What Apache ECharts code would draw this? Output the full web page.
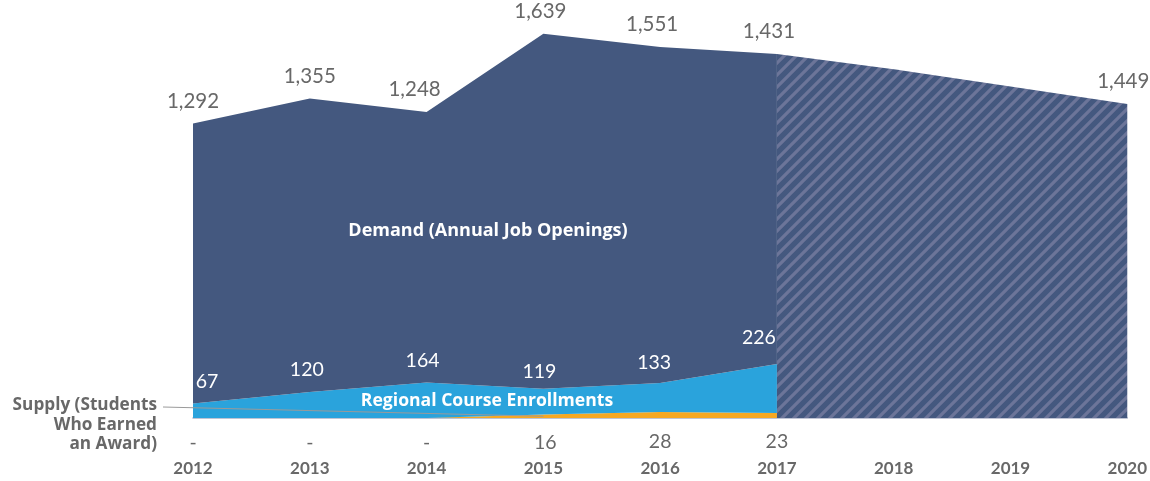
<!DOCTYPE html>
<html>
<head>
<meta charset="utf-8">
<script src="https://cdn.jsdelivr.net/npm/echarts@6/dist/echarts.min.js"></script>
<style>
  html, body { margin: 0; padding: 0; background: #ffffff; }
  #chart { width: 1150px; height: 481px; }
</style>
</head>
<body>
<div id="chart"></div>
<script>
// Years on the horizontal axis
const years = ['2012', '2013', '2014', '2015', '2016', '2017', '2018', '2019', '2020'];

// Annual job openings (observed years)
const demand = [1292, 1355, 1248, 1639, 1551, 1431];
// Regional course enrollments
const enrollments = [67, 120, 164, 119, 133, 226];
// Students who earned an award
const supply = [0, 0, 0, 16, 28, 23];
// Projected job openings, 2018-2020
const forecastDemand = [1610, 1530, 1449];

const NAVY = '#44587f';
const BLUE = '#2aa3dc';
const ORANGE = '#f6a822';
const GREY = '#686868';
const FONT = 'Lato, "Open Sans", sans-serif';
const NOTE_FONT = '"Open Sans", Lato, sans-serif';

// Diagonal hatch tile for the projected period
function hatchTile() {
  const s = 12;
  const c = document.createElement('canvas');
  c.width = s; c.height = s;
  const g = c.getContext('2d');
  g.fillStyle = NAVY;
  g.fillRect(0, 0, s, s);
  g.strokeStyle = '#6c7599';
  g.lineWidth = 3.2;
  g.beginPath();
  for (const o of [-s, 0, s]) {
    g.moveTo(o - 2, s + 2);
    g.lineTo(o + s + 2, -2);
  }
  g.stroke();
  return c;
}

const pad = n => years.map((_, i) => (i < n.length ? n[i] : null));
const fmt = v => v.toLocaleString('en-US');

// Small nudges so value labels sit clear of the edges
const demandLabelShift = [0, 0, -12, -3, -8, -8];
const enrollLabelShift = [[14, 0], [-3, 0], [-4, 0], [-4, 5], [-6, 2], [-18, -4]];
const supplyLabelShift = [[0, 3], [0, 3], [0, 3], [2, 6], [0, 8], [0, 7]];

const demandData = demand.map((v, i) => ({
  value: v,
  label: { offset: [demandLabelShift[i], 0] }
}));
const enrollData = enrollments.map((v, i) => ({
  value: v,
  label: { offset: enrollLabelShift[i] }
}));
const supplyData = supply.map((v, i) => ({
  value: v,
  label: { offset: supplyLabelShift[i] }
}));

const last = demand.length - 1;
const total2017 = demand[last] + enrollments[last] + supply[last];
const forecastSeriesData = years.map((_, i) => {
  if (i < last) return null;
  if (i === last) return { value: total2017, label: { show: false } };
  const v = forecastDemand[i - last - 1];
  return { value: v, label: { show: i === years.length - 1, offset: [-4, 0] } };
});

// Shared settings for the filled areas: invisible points carry the labels
const areaBase = {
  type: 'line',
  smooth: false,
  symbol: 'circle',
  symbolSize: 0,
  showSymbol: true,
  clip: false,
  lineStyle: { width: 0 },
  emphasis: { disabled: true },
  silent: true
};

const chart = echarts.init(document.getElementById('chart'), null, { renderer: 'canvas' });

chart.setOption({
  animation: false,
  grid: { left: 193, right: 20, top: 28, bottom: 63 },
  xAxis: {
    type: 'category',
    data: years,
    boundaryGap: false,
    axisLine: { show: true, lineStyle: { color: '#aab1c6', width: 1.5 } },
    axisTick: { show: false },
    axisLabel: {
      color: GREY, fontFamily: FONT, fontWeight: 'bold', fontSize: 17,
      margin: 42
    },
    z: 1
  },
  yAxis: {
    type: 'value', min: 0, max: 1800, show: false,
    splitLine: { show: false }
  },
  series: [
    Object.assign({}, areaBase, {
      name: 'Supply',
      stack: 'total',
      data: pad(supplyData),
      areaStyle: { color: ORANGE, opacity: 1 },
      label: {
        show: true, position: 'bottom', distance: 12,
        color: GREY, fontFamily: FONT, fontSize: 19.5,
        formatter: p => (p.value === 0 ? '-' : fmt(p.value))
      },
      z: 3
    }),
    Object.assign({}, areaBase, {
      name: 'Regional Course Enrollments',
      stack: 'total',
      data: pad(enrollData),
      areaStyle: { color: BLUE, opacity: 1 },
      label: {
        show: true, position: 'top', distance: 12,
        color: '#ffffff', fontFamily: FONT, fontSize: 19.5,
        formatter: p => fmt(p.value)
      },
      z: 3
    }),
    Object.assign({}, areaBase, {
      name: 'Demand (Annual Job Openings)',
      stack: 'total',
      data: pad(demandData),
      areaStyle: { color: NAVY, opacity: 1 },
      label: {
        show: true, position: 'top', distance: 12,
        color: GREY, fontFamily: FONT, fontSize: 20.5,
        formatter: p => fmt(p.value)
      },
      z: 3
    }),
    Object.assign({}, areaBase, {
      name: 'Projected Demand',
      data: forecastSeriesData,
      areaStyle: { color: { image: hatchTile(), repeat: 'repeat' }, opacity: 1 },
      label: {
        show: true, position: 'top', distance: 12,
        color: GREY, fontFamily: FONT, fontSize: 20.5,
        formatter: p => fmt(p.value)
      },
      markLine: {
        silent: true,
        animation: false,
        symbol: ['none', 'none'],
        label: { show: false },
        lineStyle: { color: '#9a9a9a', width: 1, type: 'solid' },
        data: [[{ x: 163, y: 407 }, { coord: ['2015', 8] }]]
      },
      z: 4
    })
  ],
  graphic: [
    {
      type: 'text', x: 488, y: 231, z: 10,
      style: {
        text: 'Demand (Annual Job Openings)',
        fill: '#ffffff', font: 'bold 18px ' + NOTE_FONT,
        align: 'center', verticalAlign: 'middle',
        textAlign: 'center', textVerticalAlign: 'middle'
      }
    },
    {
      type: 'text', x: 487, y: 401, z: 10,
      style: {
        text: 'Regional Course Enrollments',
        fill: '#ffffff', font: 'bold 17.6px ' + NOTE_FONT,
        align: 'center', verticalAlign: 'middle',
        textAlign: 'center', textVerticalAlign: 'middle'
      }
    },
    {
      type: 'text', x: 157, y: 395.5, z: 10,
      style: {
        text: 'Supply (Students\nWho Earned\nan Award)',
        fill: GREY, font: 'bold 17.2px ' + NOTE_FONT, lineHeight: 19.5,
        align: 'right', verticalAlign: 'top',
        textAlign: 'right', textVerticalAlign: 'top'
      }
    }
  ]
});
</script>
</body>
</html>
